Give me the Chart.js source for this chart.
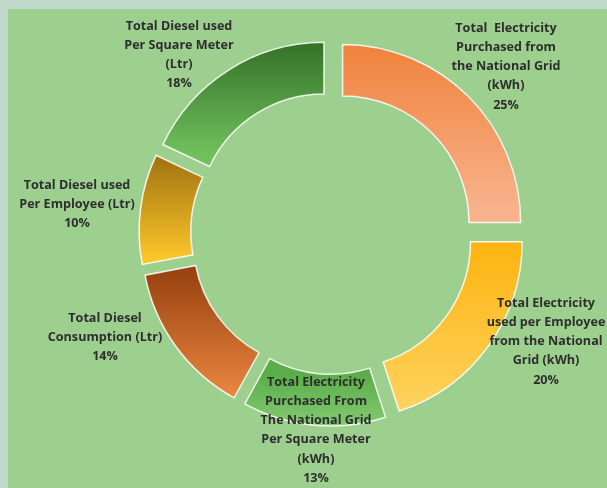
<!DOCTYPE html>
<html>
<head>
<meta charset="utf-8">
<script src="https://cdn.jsdelivr.net/npm/chart.js@4"></script>
<style>
  html, body { margin: 0; padding: 0; }
  body { width: 607px; height: 488px; background: #bfd8c9; position: relative; overflow: hidden; }
  #panel { position: absolute; left: 8px; top: 9px; right: 0; bottom: 0; background: #9dd08f; }
  #chart { position: absolute; left: 0; top: 0; }
</style>
</head>
<body>
<div id="panel"></div>
<canvas id="chart" width="607" height="488"></canvas>
<script>
// categories, one line per array entry
const categories = [
    ['Total  Electricity', 'Purchased from', 'the National Grid', '(kWh)'],
    ['Total Electricity', 'used per Employee', 'from the National', 'Grid (kWh)'],
    ['Total Electricity', 'Purchased From', 'The National Grid', 'Per Square Meter', '(kWh)'],
    ['Total Diesel', 'Consumption (Ltr)'],
    ['Total Diesel used', 'Per Employee (Ltr)'],
    ['Total Diesel used', 'Per Square Meter', '(Ltr)']
];
const shares = [25, 20, 13, 14, 10, 18];

// gradient stops, top -> bottom of each slice
const topColors = ['#ef7f36', '#fdb514', '#5aad48', '#9a4411', '#9e700f', '#2d6823'];
const bottomColors = ['#f8b38d', '#fdd563', '#90d27e', '#f28c44', '#ffc92c', '#70c05c'];

// where each label block sits (center x, first line y)
const labelPos = [[506, 28], [546, 303], [316, 382], [105, 318], [77, 185], [179, 26]];
const EXPLODE = 15;

function sliceYRange(arc) {
    const s = arc.startAngle, e = arc.endAngle;
    const mid = (s + e) / 2;
    const dy = Math.sin(mid) * EXPLODE;
    const ys = [];
    [arc.innerRadius, arc.outerRadius].forEach(r => {
        ys.push(arc.y + r * Math.sin(s), arc.y + r * Math.sin(e));
    });
    for (let k = -2; k <= 2; k++) {
        const down = Math.PI / 2 + k * 2 * Math.PI;
        const up = -Math.PI / 2 + k * 2 * Math.PI;
        if (down > s && down < e) ys.push(arc.y + arc.outerRadius);
        if (up > s && up < e) ys.push(arc.y - arc.outerRadius);
    }
    return [Math.min(...ys) + dy, Math.max(...ys) + dy];
}

function sliceFill(c) {
    const arc = c.element;
    const i = c.dataIndex;
    if (!arc || !arc.outerRadius) return topColors[i];
    const [y0, y1] = sliceYRange(arc);
    const g = c.chart.ctx.createLinearGradient(0, y0, 0, y1);
    g.addColorStop(0, topColors[i]);
    g.addColorStop(1, bottomColors[i]);
    return g;
}

// pull every slice outward along its middle angle
const explodePlugin = {
    id: 'explode',
    beforeDatasetDraw(chart, args) {
        const ctx = chart.ctx;
        args.meta.data.forEach(arc => {
            const mid = (arc.startAngle + arc.endAngle) / 2;
            ctx.save();
            ctx.translate(Math.cos(mid) * EXPLODE, Math.sin(mid) * EXPLODE);
            arc.draw(ctx);
            ctx.restore();
        });
        return false;
    }
};

const labelPlugin = {
    id: 'sliceLabels',
    afterDatasetsDraw(chart) {
        const ctx = chart.ctx;
        ctx.save();
        ctx.font = "bold 12.6px 'Open Sans'";
        ctx.fillStyle = '#2e2e2e';
        ctx.textAlign = 'center';
        ctx.textBaseline = 'middle';
        chart.data.labels.forEach((lines, i) => {
            const all = lines.concat([shares[i] + '%']);
            const [x, y] = labelPos[i];
            all.forEach((t, j) => ctx.fillText(t, x, y + j * 19.3));
        });
        ctx.restore();
    }
};

const chart = new Chart(document.getElementById('chart'), {
    type: 'doughnut',
    data: {
        labels: categories,
        datasets: [{
            data: shares,
            backgroundColor: sliceFill,
            borderColor: 'rgba(255,255,255,0.85)',
            borderWidth: 1.5,
            borderJoinStyle: 'miter'
        }]
    },
    options: {
        responsive: false,
        animation: false,
        radius: 178,
        cutout: '71%',
        layout: { padding: { left: 57, right: 0, top: 0, bottom: 22 } },
        plugins: {
            legend: { display: false },
            tooltip: { enabled: false }
        }
    },
    plugins: [explodePlugin, labelPlugin]
});
chart.update();
</script>
</body>
</html>
